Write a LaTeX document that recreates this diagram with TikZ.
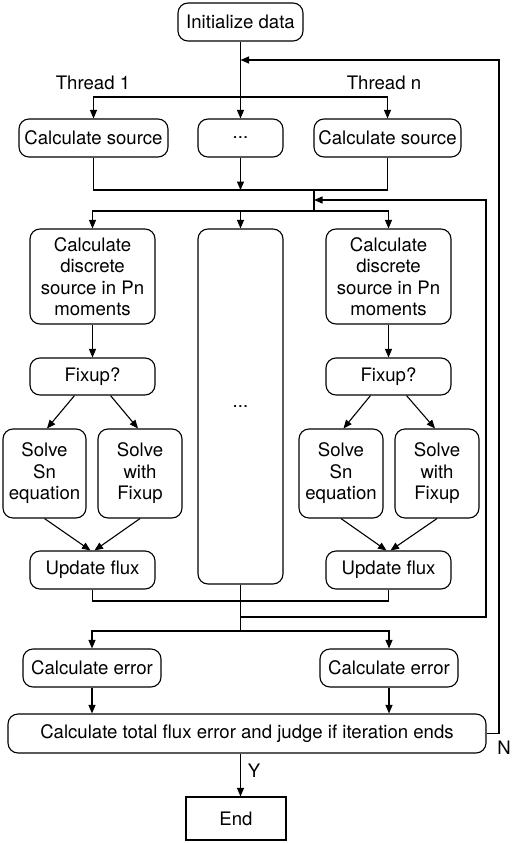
\documentclass[tikz,border=0pt]{standalone}
\usepackage{fontspec}
\setmainfont{TeX Gyre Heros}
\usetikzlibrary{arrows.meta}
\begin{document}
\begin{tikzpicture}[x=1pt,y=-1pt,
  box/.style={draw,rounded corners=10pt,line width=1.1pt,inner sep=0pt,align=center,
    font=\fontsize{18.6}{21.5}\selectfont},
  sq/.style={draw,line width=1.2pt,inner sep=0pt,font=\fontsize{18.6}{21.5}\selectfont},
  lbl/.style={inner sep=0pt,font=\fontsize{18.6}{21.5}\selectfont},
  ln/.style={line width=1.1pt},
  arr/.style={ln,-{Triangle[length=8.5pt,width=7pt]}}]
\useasboundingbox (0,0) rectangle (512,843);
% nodes
\node[box,minimum width=125pt,minimum height=38pt] (init) at (240.5,22) {Initialize data};
\node[lbl] (t1) at (93,83) {Thread 1};
\node[lbl] (tn) at (384,83) {Thread n};
\node[box,minimum width=149pt,minimum height=38pt] (cs1) at (93.5,138) {Calculate source};
\node[box,minimum width=85pt,minimum height=38pt] (dots1) at (240.5,138) {...};
\node[box,minimum width=147pt,minimum height=38pt] (csn) at (387.5,138) {Calculate source};
\node[box,minimum width=125pt,minimum height=95pt] (dis1) at (92.5,276.5) {Calculate\\discrete\\source in Pn\\moments};
\node[box,minimum width=85pt,minimum height=355pt] (tall) at (240.5,406.5) {...};
\node[box,minimum width=125pt,minimum height=95pt] (disn) at (388.5,276.5) {Calculate\\discrete\\source in Pn\\moments};
\node[box,minimum width=125pt,minimum height=37pt] (fix1) at (92.5,376.5) {Fixup?};
\node[box,minimum width=125pt,minimum height=37pt] (fixn) at (388.5,376.5) {Fixup?};
\node[box,minimum width=83pt,minimum height=89pt] (ssn1) at (44.5,473.5) {Solve\\Sn\\equation};
\node[box,minimum width=84pt,minimum height=89pt] (swf1) at (140,473.5) {Solve\\with\\Fixup};
\node[box,minimum width=84pt,minimum height=89pt] (ssnn) at (341,473.5) {Solve\\Sn\\equation};
\node[box,minimum width=84pt,minimum height=89pt] (swfn) at (437,473.5) {Solve\\with\\Fixup};
\node[box,minimum width=125pt,minimum height=38pt] (up1) at (92.5,570) {Update flux};
\node[box,minimum width=125pt,minimum height=38pt] (upn) at (388.5,570) {Update flux};
\node[box,minimum width=138pt,minimum height=38pt] (ce1) at (92,668) {Calculate error};
\node[box,minimum width=138pt,minimum height=38pt] (cen) at (389,668) {Calculate error};
\node[box,minimum width=478pt,minimum height=39pt] (big) at (247,733.5) {Calculate total flux error and judge if iteration ends};
\node[sq,minimum width=100pt,minimum height=43pt] (endb) at (236,818.5) {End};
\node[lbl] (ylab) at (254,771) {Y};
\node[lbl] (nlab) at (504,748) {N};
% coordinates
\coordinate (s1) at (240.5,97);
\coordinate (fbtop) at (240.5,60);
\coordinate (g1) at (240.5,190);
\coordinate (j2) at (314,190);
\coordinate (j3) at (314,211);
\coordinate (j200) at (314,200);
\coordinate (r200) at (486,200);
\coordinate (m601) at (240.5,601);
\coordinate (m617) at (240.5,617);
\coordinate (m631) at (240.5,631);
\coordinate (ncor) at (499,60);
% connectors
\draw[arr] (init) -- (dots1);
\draw[arr] (s1) -| (cs1.north);
\draw[arr] (s1) -| (csn.north);
\draw[arr] (big.east) -| (ncor) -- (fbtop);
\draw[ln] (cs1.south) |- (g1);
\draw[ln] (csn.south) |- (g1);
\draw[arr] (dots1.south) -- (g1);
\draw[ln] (j2) -- (j3);
\draw[arr] (j3) -| (dis1.north);
\draw[arr] (j3) -| (tall.north);
\draw[arr] (j3) -| (disn.north);
\draw[arr] (m617) -| (r200) -- (j200);
\draw[arr] (dis1) -- (fix1);
\draw[arr] (disn) -- (fixn);
\draw[arr] ([xshift=-18pt]fix1.south) -- ([xshift=2.5pt]ssn1.north);
\draw[arr] ([xshift=18pt]fix1.south) -- ([xshift=-2pt]swf1.north);
\draw[arr] ([xshift=-18pt]fixn.south) -- ([xshift=2.5pt]ssnn.north);
\draw[arr] ([xshift=18pt]fixn.south) -- ([xshift=-2pt]swfn.north);
\draw[arr] (ssn1.south) -- ([xshift=-2pt]up1.north);
\draw[arr] (swf1.south) -- ([xshift=2pt]up1.north);
\draw[arr] (ssnn.south) -- ([xshift=-2pt]upn.north);
\draw[arr] (swfn.south) -- ([xshift=2pt]upn.north);
\draw[ln] (up1.south) |- (m601);
\draw[ln] (upn.south) |- (m601);
\draw[ln] (tall.south) -- (m631);
\draw[arr] (m631) -| (ce1.north);
\draw[arr] (m631) -| (cen.north);
\draw[arr] (ce1.south) -- (ce1.south |- big.north);
\draw[arr] (cen.south) -- (cen.south |- big.north);
\draw[arr] (init.south |- big.south) -- (init.south |- endb.north);
\end{tikzpicture}
\end{document}
